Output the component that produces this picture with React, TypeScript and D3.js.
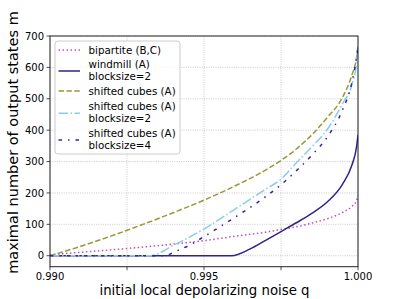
import React from "react";
import * as d3 from "d3";

// values
const bipartiteQ = [0.99, 0.991, 0.9925, 0.994, 0.995, 0.996, 0.997, 0.9975, 0.998, 0.9985, 0.999, 0.9995, 0.9998, 0.99995, 1.0];
const bipartiteM = [3, 11, 23, 37, 48, 62, 75, 84, 92, 104, 118, 138, 157, 175, 192];

const windmillQ = [0.99, 0.9959, 0.9965, 0.997, 0.9975, 0.998, 0.9985, 0.999, 0.9995, 0.9998, 0.99995, 1.0];
const windmillM = [0, 0, 22, 49, 77, 105, 135, 171, 228, 288, 345, 385];

const cubesQ = [0.99, 0.991, 0.9925, 0.994, 0.995, 0.996, 0.997, 0.998, 0.9985, 0.999, 0.9995, 0.9998, 0.99995, 1.0];
const cubesM = [0, 30, 81, 137, 177, 222, 273, 340, 385, 440, 505, 575, 630, 668];

const cubes2Q = [0.99, 0.99325, 0.994, 0.995, 0.996, 0.997, 0.9975, 0.998, 0.9985, 0.999, 0.9995, 0.9998, 0.99995, 1.0];
const cubes2M = [0, 0, 33, 85, 148, 212, 244, 296, 347, 402, 485, 545, 610, 660];

const cubes4Q = [0.99, 0.99375, 0.9939, 0.994, 0.9946, 0.995, 0.996, 0.997, 0.9975, 0.998, 0.9985, 0.999, 0.9995, 0.9998, 0.99995, 1.0];
const cubes4M = [0, 0, 5, 10, 37, 61, 122, 188, 226, 271, 320, 378, 465, 551, 630, 662];

const xTicks = [0.99, 0.9925, 0.995, 0.9975, 1.0];
const xTickLabels = ["0.990", "", "0.995", "", "1.000"];
const yTicks = [0, 100, 200, 300, 400, 500, 600, 700];

const series = [
  { name: ["bipartite (B,C)"], q: bipartiteQ, m: bipartiteM, color: "#bf4fbf", dash: "1.5,2.5" },
  { name: ["windmill (A)", "blocksize=2"], q: windmillQ, m: windmillM, color: "#332288", dash: "" },
  { name: ["shifted cubes (A)"], q: cubesQ, m: cubesM, color: "#999933", dash: "5.5,2.4" },
  { name: ["shifted cubes (A)", "blocksize=2"], q: cubes2Q, m: cubes2M, color: "#88ccee", dash: "9.6,2.4,1.5,2.4" },
  { name: ["shifted cubes (A)", "blocksize=4"], q: cubes4Q, m: cubes4M, color: "#3322aa", dash: "3.5,6,1.5,6" },
];

const W = 399;
const H = 299;
const left = 50;
const right = 358;
const top = 36;
const bottom = 266.7;
const font = "DejaVu Sans";

export default function App() {
  const x = d3.scaleLinear().domain([0.99, 1.0]).range([left, right]);
  const y = d3.scaleLinear().domain([-35, 700]).range([bottom, top]);

  const line = d3
    .line<[number, number]>()
    .x((d) => x(d[0]))
    .y((d) => y(d[1]))
    .curve(d3.curveMonotoneX);

  // legend rows
  const rows: { lineY: number; texts: number[] }[] = [
    { lineY: 50, texts: [53.6] },
    { lineY: 71, texts: [67.9, 79.7] },
    { lineY: 91, texts: [94.6] },
    { lineY: 113.3, texts: [110.3, 122] },
    { lineY: 140, texts: [137.3, 149] },
  ];

  return (
    <svg width={W} height={H} style={{ position: "absolute", left: 0, top: 0 }} fontFamily={font}>
      <rect width={W} height={H} fill="white" />
      <defs>
        <clipPath id="plot">
          <rect x={left} y={top} width={right - left} height={bottom - top} />
        </clipPath>
      </defs>

      {/* grid */}
      <g stroke="#b0b0b0" strokeWidth={0.8} strokeDasharray="1,1.3" opacity={0.8}>
        {xTicks.map((t) => (
          <line key={"gx" + t} x1={x(t)} x2={x(t)} y1={top} y2={bottom} />
        ))}
        {yTicks.map((t) => (
          <line key={"gy" + t} x1={left} x2={right} y1={y(t)} y2={y(t)} />
        ))}
      </g>

      {/* series */}
      <g clipPath="url(#plot)">
        {series.map((s, i) => (
          <path
            key={i}
            d={line(s.q.map((q, j) => [q, s.m[j]] as [number, number])) || ""}
            fill="none"
            stroke={s.color}
            strokeWidth={1.5}
            strokeDasharray={s.dash || undefined}
          />
        ))}
      </g>

      {/* frame */}
      <rect x={left} y={top} width={right - left} height={bottom - top} fill="none" stroke="#222" strokeWidth={1} />
      <line x1={right + 0.5} x2={right + 0.5} y1={top} y2={bottom} stroke="#888" strokeWidth={1} />

      {/* x ticks */}
      {xTicks.map((t, i) => (
        <g key={"xt" + t}>
          <line x1={x(t)} x2={x(t)} y1={bottom} y2={bottom + 3.5} stroke="#222" strokeWidth={0.8} />
          <text x={x(t)} y={279.5} fontSize={10} textAnchor="middle" fill="#000">
            {xTickLabels[i]}
          </text>
        </g>
      ))}

      {/* y ticks */}
      {yTicks.map((t) => (
        <g key={"yt" + t}>
          <line x1={left - 3.5} x2={left} y1={y(t)} y2={y(t)} stroke="#222" strokeWidth={0.8} />
          <text x={left - 6} y={y(t) + 3.6} fontSize={10} textAnchor="end" fill="#000">
            {t}
          </text>
        </g>
      ))}

      {/* axis labels */}
      <text x={(left + right) / 2 + 0.5} y={294.5} fontSize={13.3} textAnchor="middle" fill="#000">
        initial local depolarizing noise q
      </text>
      <text
        transform={`translate(17.5, 142.5) rotate(-90)`}
        fontSize={14.5}
        textAnchor="middle"
        fill="#000"
      >
        maximal number of output states m
      </text>

      {/* legend */}
      <rect x={55} y={41} width={125} height={113} rx={3} fill="white" fillOpacity={0.8} stroke="#cccccc" strokeWidth={1} />
      {series.map((s, i) => (
        <g key={"lg" + i}>
          <line
            x1={58.5}
            x2={80}
            y1={rows[i].lineY}
            y2={rows[i].lineY}
            stroke={s.color}
            strokeWidth={1.5}
            strokeDasharray={s.dash || undefined}
          />
          {s.name.map((n, k) => (
            <text key={k} x={88.5} y={rows[i].texts[k]} fontSize={10.3} fill="#000">
              {n}
            </text>
          ))}
        </g>
      ))}
    </svg>
  );
}
